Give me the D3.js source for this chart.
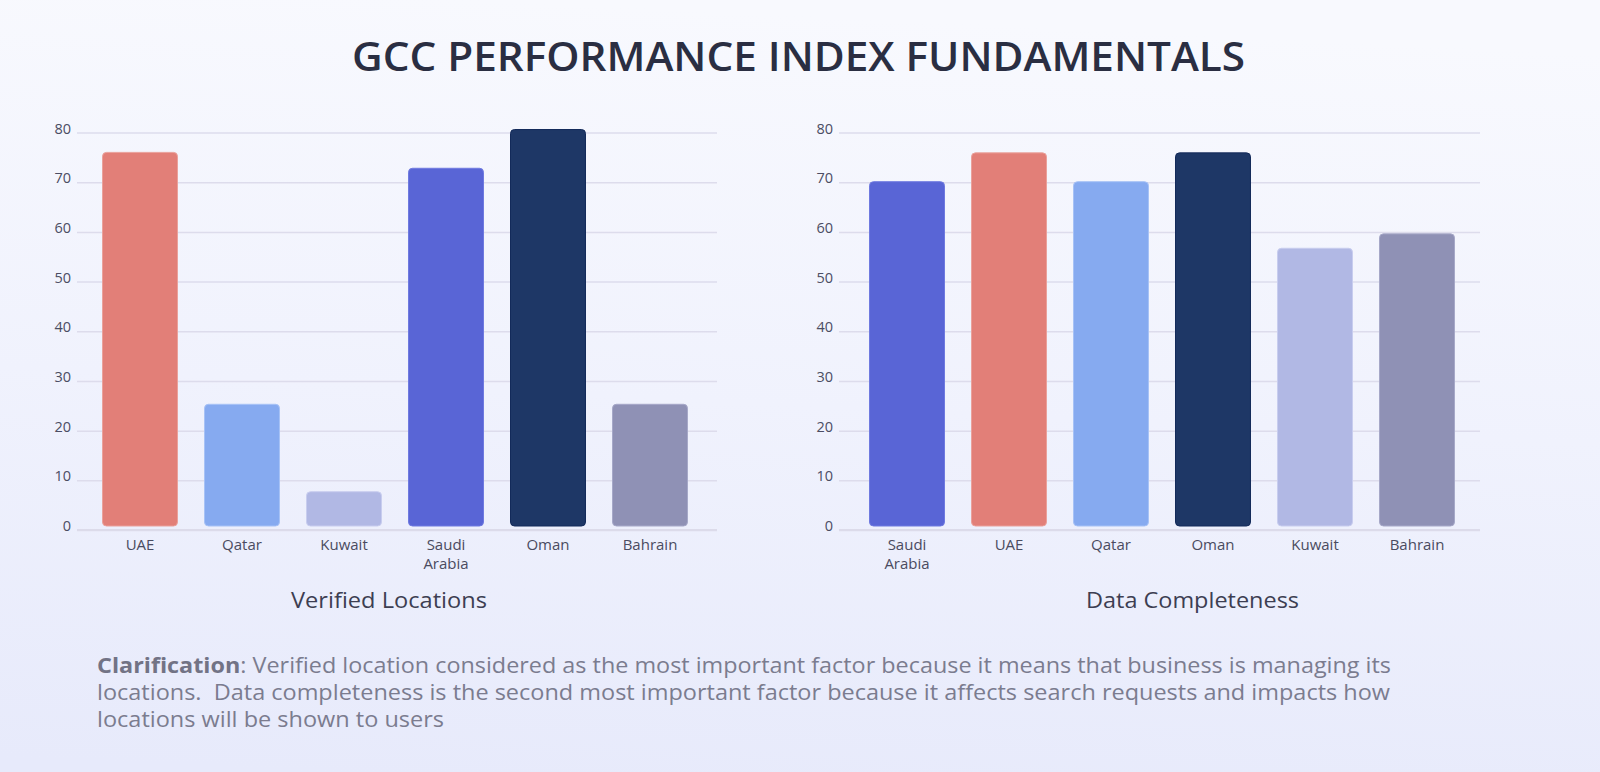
<!DOCTYPE html>
<html><head><meta charset="utf-8">
<script src="https://cdn.jsdelivr.net/npm/d3@7"></script>
<style>html,body{margin:0;padding:0;overflow:hidden;}svg{display:block;}</style>
</head><body>
<svg id="chart" width="1600" height="772"></svg>
<script>
const title = "GCC PERFORMANCE INDEX FUNDAMENTALS";
const yTicks = [0, 10, 20, 30, 40, 50, 60, 70, 80];

const verifiedCategories = ["UAE", "Qatar", "Kuwait", "Saudi Arabia", "Oman", "Bahrain"];
const verifiedValues = [76, 25.3, 7.7, 72.8, 80.6, 25.3];
const verifiedTitle = "Verified Locations";

const completenessCategories = ["Saudi Arabia", "UAE", "Qatar", "Oman", "Kuwait", "Bahrain"];
const completenessValues = [70.1, 75.9, 70.1, 75.9, 56.7, 59.6];
const completenessTitle = "Data Completeness";

const countryColors = {
  "UAE": "#e27f78", "Qatar": "#86aaf0", "Kuwait": "#b1b8e4",
  "Saudi Arabia": "#5965d6", "Oman": "#1e3766", "Bahrain": "#8f91b5"
};
const strokeColors = {
  "UAE": "#eaa19b", "Qatar": "#a7c2f6", "Kuwait": "#c8cdef",
  "Saudi Arabia": "#6f7ae0", "Oman": "#132a5a", "Bahrain": "#a6a8c8"
};

const noteBold = "Clarification";
const noteLines = [
  ": Verified location considered as the most important factor because it means that business is managing its",
  "locations.\u00A0 Data completeness is the second most important factor because it affects search requests and impacts how",
  "locations will be shown to users"
];

const svg = d3.select("#chart");
const defs = svg.append("defs");
const grad = defs.append("linearGradient").attr("id", "bg").attr("x1", "0.3").attr("y1", "0").attr("x2", "0.2").attr("y2", "1");
grad.append("stop").attr("offset", "0").attr("stop-color", "#f8f9fe");
grad.append("stop").attr("offset", "0.5").attr("stop-color", "#f0f2fd");
grad.append("stop").attr("offset", "1").attr("stop-color", "#e7eafb");
svg.append("rect").attr("width", 1600).attr("height", 772).attr("fill", "url(#bg)");

const FONT = "'Open Sans', 'Noto Sans', sans-serif";

svg.append("text").text(title)
  .attr("x", 352).attr("y", 71)
  .attr("textLength", 893).attr("lengthAdjust", "spacingAndGlyphs")
  .attr("font-family", FONT).attr("font-weight", 600).attr("font-size", 40)
  .attr("fill", "#2a2e42");

const y = d3.scaleLinear().domain([0, 80]).range([530, 132.5]);

function drawChart(cats, vals, gx0, gx1, bandRange, label, labelX, labelW) {
  const g = svg.append("g");
  const x = d3.scaleBand().domain(cats).range(bandRange).paddingInner(0.265).paddingOuter(0.1325);

  const yAxis = d3.axisLeft(y).tickValues(yTicks).tickSize(-(gx1 - gx0)).tickPadding(6);
  const ga = g.append("g").attr("transform", `translate(${gx0},0)`).call(yAxis);
  ga.select(".domain").remove();
  ga.selectAll(".tick line").attr("stroke", "#dddcec").attr("stroke-width", 1.5);
  ga.selectAll(".tick text").attr("y", -4).attr("font-family", FONT).attr("font-size", 14.5).attr("fill", "#4b4d63");

  g.append("line").attr("x1", gx0).attr("x2", gx1).attr("y1", y(0)).attr("y2", y(0))
    .attr("stroke", "#dcdbea").attr("stroke-width", 2);

  g.selectAll("rect.bar").data(cats.map((c, i) => ({c, v: vals[i]}))).enter().append("rect")
    .attr("class", "bar")
    .attr("x", d => x(d.c)).attr("width", x.bandwidth())
    .attr("y", d => y(d.v)).attr("height", d => y(0) - 4 - y(d.v))
    .attr("rx", 4).attr("ry", 4)
    .attr("fill", d => countryColors[d.c])
    .attr("stroke", d => strokeColors[d.c]).attr("stroke-width", 1);

  const xAxis = d3.axisBottom(x).tickSize(0).tickPadding(0);
  const gx = g.append("g").attr("transform", `translate(0,${y(0)})`).call(xAxis);
  gx.select(".domain").remove();
  gx.selectAll(".tick text").attr("font-family", FONT).attr("font-size", 15).attr("fill", "#4a4b60")
    .attr("dy", null).attr("y", 20)
    .each(function(d) {
      const t = d3.select(this);
      if (this.getComputedTextLength() > x.bandwidth()) {
        const words = d.split(" ");
        t.text(null);
        words.forEach((w, i) => t.append("tspan").attr("x", 0).attr("y", 20 + i * 18.7).text(w));
      }
    });

  svg.append("text").text(label).attr("x", labelX).attr("y", 608)
    .attr("textLength", labelW).attr("lengthAdjust", "spacingAndGlyphs")
    .attr("font-family", FONT).attr("font-size", 22).attr("fill", "#3d3e52");
}

drawChart(verifiedCategories, verifiedValues, 77, 717, [89, 701], verifiedTitle, 291, 196);
drawChart(completenessCategories, completenessValues, 839, 1480, [856, 1468], completenessTitle, 1086, 213);

const note = svg.append("g").attr("font-family", FONT).attr("font-size", 21).attr("fill", "#7b7c8f");
const l1 = note.append("text").attr("x", 97).attr("y", 673)
  .attr("textLength", 1294).attr("lengthAdjust", "spacingAndGlyphs");
l1.append("tspan").attr("font-weight", 700).attr("fill", "#727385").text(noteBold);
l1.append("tspan").text(noteLines[0]);
note.append("text").attr("x", 97).attr("y", 700).text(noteLines[1])
  .attr("textLength", 1293).attr("lengthAdjust", "spacingAndGlyphs");
note.append("text").attr("x", 97).attr("y", 727).text(noteLines[2])
  .attr("textLength", 347).attr("lengthAdjust", "spacingAndGlyphs");
</script>
</body></html>
